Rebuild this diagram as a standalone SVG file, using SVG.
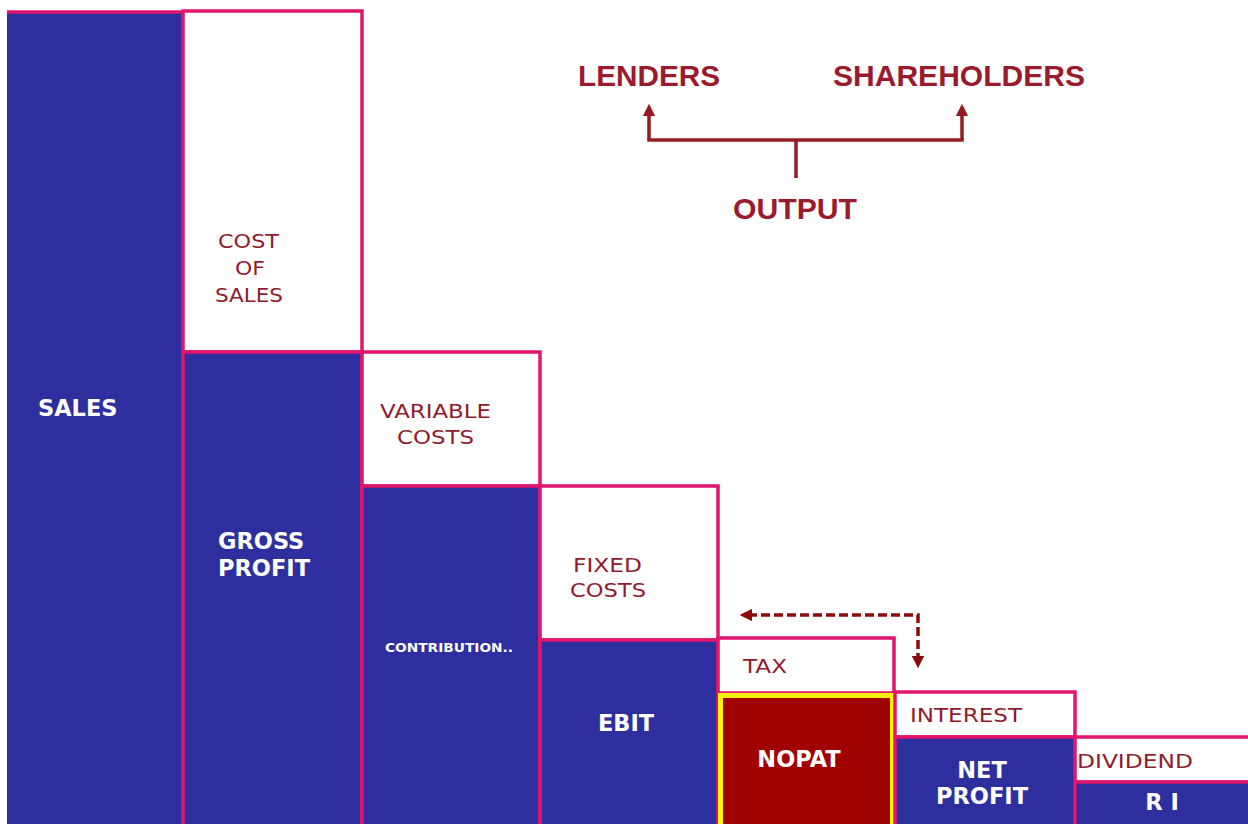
<svg xmlns="http://www.w3.org/2000/svg" width="1248" height="824" viewBox="0 0 1248 824">
<style>
.bg{fill:#ffffff}
.blue{fill:#2E2F9E;stroke:#E0156B;stroke-width:3.5}
.white{fill:#ffffff;stroke:#E0156B;stroke-width:3.5}
.nopat{fill:#A00202;stroke:#FFF200;stroke-width:5}
.lbl{font-family:"DejaVu Sans",sans-serif;font-size:20px;fill:#8E1B2E}
.wl{font-family:"DejaVu Sans",sans-serif;font-weight:bold;font-size:22.5px;fill:#ffffff}
.sm{font-family:"DejaVu Sans",sans-serif;font-weight:bold;font-size:12px;fill:#ffffff}
.big{font-family:"Liberation Sans",Arial,sans-serif;font-weight:bold;font-size:30px;fill:#9A1B2E}
.tree{fill:none;stroke:#951B22;stroke-width:3.5}
.dash{fill:none;stroke:#8B0A0A;stroke-width:3.5;stroke-dasharray:9 4}
</style>
<defs>
<marker id="ah" viewBox="0 0 10 10" refX="5" refY="5" markerWidth="3.6" markerHeight="3.6" orient="auto-start-reverse" markerUnits="strokeWidth">
<path d="M0,0 L10,5 L0,10 z" fill="#951B22"/>
</marker>
<marker id="dh" viewBox="0 0 10 10" refX="5" refY="5" markerWidth="3.6" markerHeight="3.6" orient="auto-start-reverse" markerUnits="strokeWidth">
<path d="M0,0 L10,5 L0,10 z" fill="#8B0A0A"/>
</marker>
</defs>
<rect class="bg" x="0" y="0" width="1248" height="824"/>

<g id="sales">
<rect x="7" y="12" width="176" height="820" fill="#2E2F9E"/>
<line x1="7" y1="12" x2="183" y2="12" stroke="#E0156B" stroke-width="3.5"/>
<text class="wl" x="38" y="416">SALES</text>
</g>
<g id="cost-of-sales">
<rect class="white" x="183" y="11" width="179" height="341"/>
<text class="lbl" x="218" y="248" textLength="61" lengthAdjust="spacingAndGlyphs">COST</text>
<text class="lbl" x="235" y="275" textLength="30" lengthAdjust="spacingAndGlyphs">OF</text>
<text class="lbl" x="215" y="302" textLength="68" lengthAdjust="spacingAndGlyphs">SALES</text>
</g>
<g id="gross-profit">
<rect class="blue" x="183" y="352" width="179" height="480"/>
<text class="wl" x="218" y="549">GROSS</text>
<text class="wl" x="218" y="576">PROFIT</text>
</g>
<g id="variable-costs">
<rect class="white" x="362" y="352" width="178" height="134"/>
<text class="lbl" x="380" y="418" textLength="111" lengthAdjust="spacingAndGlyphs">VARIABLE</text>
<text class="lbl" x="397" y="444" textLength="77" lengthAdjust="spacingAndGlyphs">COSTS</text>
</g>
<g id="contribution">
<rect class="blue" x="362" y="486" width="178" height="346"/>
<text class="sm" x="385" y="652" textLength="128" lengthAdjust="spacingAndGlyphs">CONTRIBUTION..</text>
</g>
<g id="fixed-costs">
<rect class="white" x="540" y="486" width="178" height="154"/>
<text class="lbl" x="573" y="572" textLength="69" lengthAdjust="spacingAndGlyphs">FIXED</text>
<text class="lbl" x="570" y="597" textLength="76" lengthAdjust="spacingAndGlyphs">COSTS</text>
</g>
<g id="ebit">
<rect class="blue" x="540" y="640" width="178" height="192"/>
<text class="wl" x="626" y="731" text-anchor="middle">EBIT</text>
</g>
<g id="tax">
<rect class="white" x="718" y="638" width="176" height="55"/>
<text class="lbl" x="743" y="673" textLength="44" lengthAdjust="spacingAndGlyphs">TAX</text>
</g>
<g id="nopat">
<rect class="nopat" x="720.5" y="695.5" width="172" height="140"/>
<text class="wl" x="799" y="767" text-anchor="middle">NOPAT</text>
</g>
<g id="interest">
<rect class="white" x="895" y="692" width="180" height="45"/>
<text class="lbl" x="910" y="722" textLength="112" lengthAdjust="spacingAndGlyphs">INTEREST</text>
</g>
<g id="net-profit">
<rect class="blue" x="895" y="737" width="180" height="95"/>
<text class="wl" x="982" y="778" text-anchor="middle">NET</text>
<text class="wl" x="982" y="804" text-anchor="middle">PROFIT</text>
</g>
<g id="dividend">
<rect class="white" x="1075" y="737" width="180" height="45"/>
<text class="lbl" x="1077" y="768" textLength="116" lengthAdjust="spacingAndGlyphs">DIVIDEND</text>
</g>
<g id="ri">
<rect class="blue" x="1075" y="782" width="180" height="50"/>
<text class="wl" x="1162" y="810" text-anchor="middle">R I</text>
</g>

<g id="lenders"><text class="big" x="649" y="86" text-anchor="middle" textLength="142" lengthAdjust="spacingAndGlyphs">LENDERS</text></g>
<g id="shareholders"><text class="big" x="959" y="86" text-anchor="middle" textLength="252" lengthAdjust="spacingAndGlyphs">SHAREHOLDERS</text></g>
<g id="output"><text class="big" x="795" y="219" text-anchor="middle" textLength="124" lengthAdjust="spacingAndGlyphs">OUTPUT</text></g>

<g id="connectors">
<path class="tree" d="M649,140 L649,110" marker-end="url(#ah)"/>
<path class="tree" d="M962,140 L962,110" marker-end="url(#ah)"/>
<path class="tree" d="M647.3,140 L963.7,140"/>
<path class="tree" d="M796,140 L796,178"/>
<path class="dash" d="M918,662 L918,615 L746,615" marker-end="url(#dh)" marker-start="url(#dh)"/>
</g>
</svg>
